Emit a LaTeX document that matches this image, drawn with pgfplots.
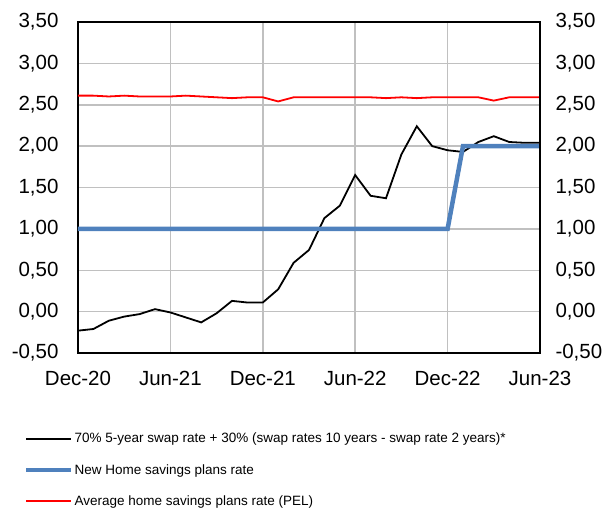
\documentclass[border=0pt]{standalone}
\usepackage{pgfplots}
\pgfplotsset{compat=1.18}
\usepackage{fontspec}
\setmainfont{Liberation Sans}
\definecolor{bluel}{HTML}{4F81BD}
\definecolor{gridc}{HTML}{C0C0C0}
\pgfplotsset{numfmt/.style={yticklabel style={/pgf/number format/fixed, /pgf/number format/fixed zerofill, /pgf/number format/precision=2, /pgf/number format/use comma, /pgf/number format/assume math mode=true}}}
\begin{document}
\begin{tikzpicture}
\useasboundingbox (-78bp,-156bp) rectangle (537bp,353bp);
\begin{axis}[
 at={(0,0)}, anchor=south west,
 scale only axis, width=462bp, height=331bp,
 xmin=0, xmax=30, ymin=-0.5, ymax=3.5,
 xtick={0,6,12,18,24,30},
 xticklabels={Dec-20,Jun-21,Dec-21,Jun-22,Dec-22,Jun-23},
 ytick={-0.5,0,0.5,1,1.5,2,2.5,3,3.5},
 grid=major, major grid style={color=gridc, line width=1.5bp},
 axis line style={line width=1.3bp, black},
 tick style={draw=none},
 ytick pos=left,
 numfmt,
 ticklabel style={font=\fontsize{20.5bp}{23bp}\selectfont},
 xticklabel style={yshift=-15bp},
 yticklabel style={xshift=-16bp},
 legend style={at={(0,0)}, anchor=north west, xshift=-54bp, yshift=-78bp, draw=none, fill=none, inner sep=0pt,
   font=\fontsize{13.5bp}{16bp}\selectfont, row sep=16bp, nodes={inner xsep=1bp}},
 legend cell align=left,
 legend image code/.code={\draw[#1] (0bp,0bp) -- (45bp,0bp);},
]
\addplot[black, line width=1.8bp] coordinates {
(0,-0.23) (1,-0.21) (2,-0.11) (3,-0.06) (4,-0.03) (5,0.03) (6,-0.01) (7,-0.07)
(8,-0.13) (9,-0.02) (10,0.13) (11,0.11) (12,0.11) (13,0.27) (14,0.59) (15,0.745)
(16,1.13) (17,1.28) (18,1.65) (19,1.40) (20,1.37) (21,1.90) (22,2.24) (23,2.00)
(24,1.95) (25,1.93) (26,2.05) (27,2.12) (28,2.05) (29,2.04) (30,2.04)};
\addlegendentry{70\% 5-year swap rate + 30\% (swap rates 10 years - swap rate 2 years)*}
\addplot[bluel, line width=4.5bp] coordinates {(0,1) (24,1) (25,2) (30,2)};
\addlegendentry{New Home savings plans rate}
\addplot[red, line width=1.8bp] coordinates {
(0,2.61) (1,2.61) (2,2.60) (3,2.61) (4,2.60) (5,2.60) (6,2.60) (7,2.61) (8,2.60)
(9,2.59) (10,2.58) (11,2.59) (12,2.59) (13,2.54) (14,2.59) (15,2.59) (16,2.59)
(17,2.59) (18,2.59) (19,2.59) (20,2.58) (21,2.59) (22,2.58) (23,2.59) (24,2.59)
(25,2.59) (26,2.59) (27,2.55) (28,2.59) (29,2.59) (30,2.59)};
\addlegendentry{Average home savings plans rate (PEL)}
\end{axis}
\begin{axis}[
 at={(0,0)}, anchor=south west,
 scale only axis, width=462bp, height=331bp,
 xmin=0, xmax=30, ymin=-0.5, ymax=3.5,
 axis x line=none, axis y line*=right,
 ytick={-0.5,0,0.5,1,1.5,2,2.5,3,3.5},
 tick style={draw=none},
 axis line style={line width=1.3bp, black, -},
 numfmt,
 ticklabel style={font=\fontsize{20.5bp}{23bp}\selectfont},
 yticklabel style={xshift=12bp},
]
\addplot[draw=none] coordinates {(0,0)};
\end{axis}
\end{tikzpicture}
\end{document}
